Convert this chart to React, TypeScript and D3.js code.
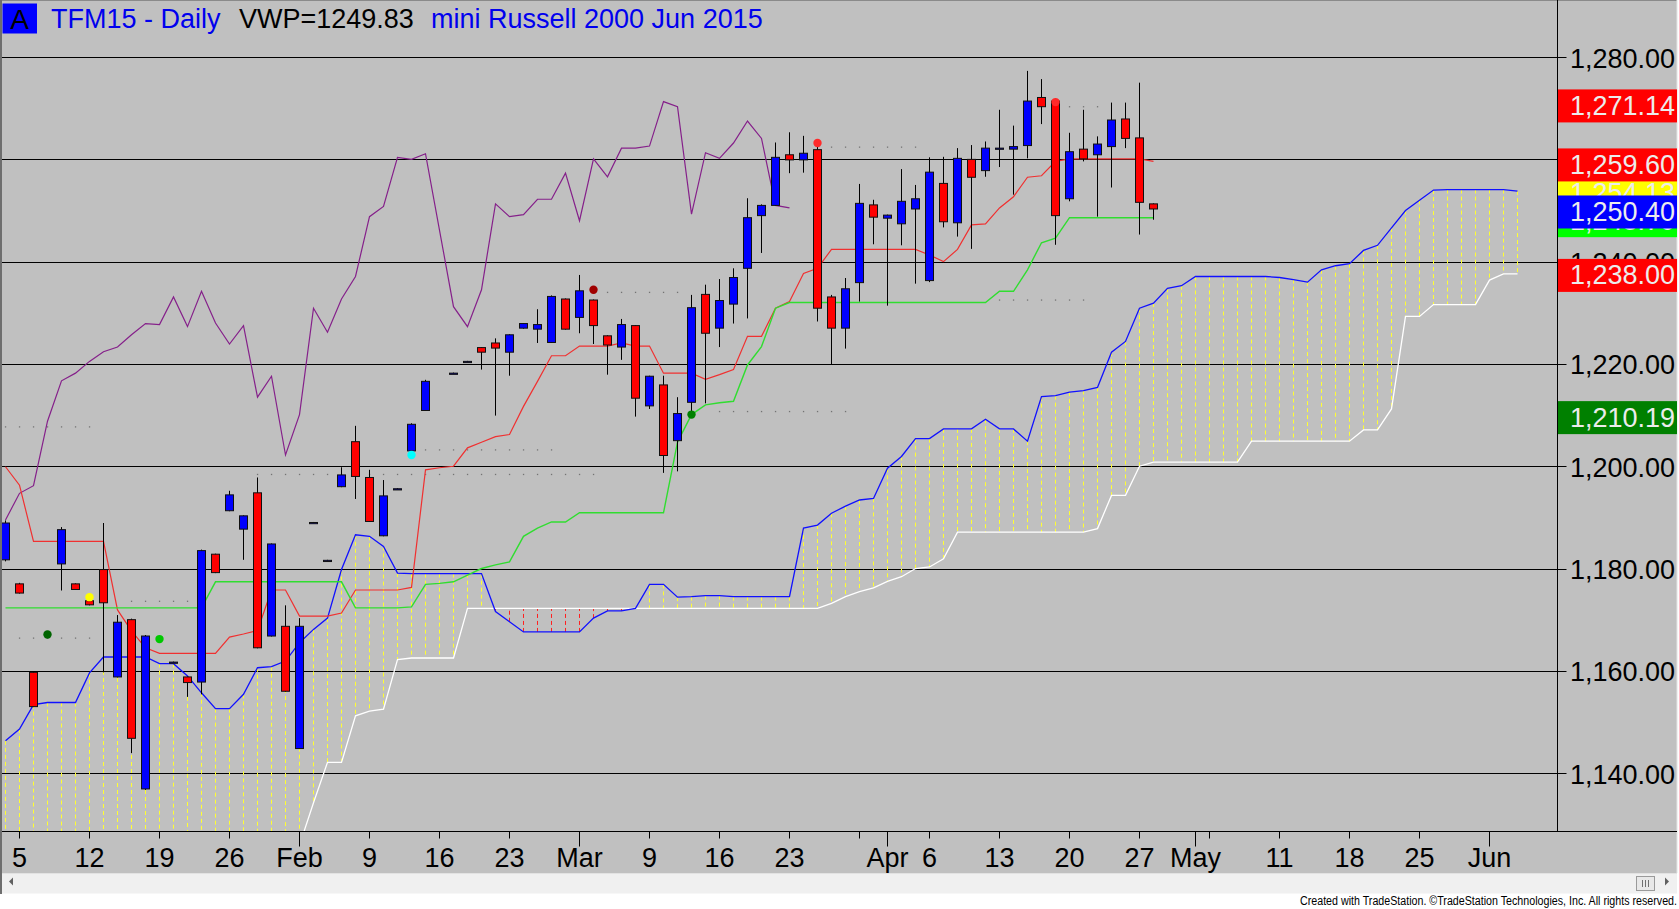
import React from 'react';
import * as d3 from 'd3';

// bar index 0 = Fri Jan 2 2015, one slot per weekday
const opens: (number | null)[] = [
  1181.8, 1177.1, 1159.8, null, 1181.0, 1177.1, 1173.8, 1179.9, 1158.9, 1170.1,
  1137.0, null, 1161.8, 1158.9, 1157.9, 1182.9, 1191.4, 1187.8, 1194.9, 1166.9,
  1168.8, 1144.9, 1189.1, 1181.7, 1196.1, 1204.9, 1197.9, 1186.5, 1195.7, 1203.1,
  1211.0, null, 1218.3, 1220.6, 1223.3, 1224.2, 1222.4, 1227.1, 1226.9, 1224.3,
  1232.8, 1229.2, 1232.6, 1225.6, 1223.4, 1227.6, 1211.9, 1216.0, 1205.1, 1212.6,
  1233.7, 1227.1, 1231.8, 1238.8, 1249.1, 1251.1, 1261.0, 1260.0, 1262.0, 1233.2,
  1227.1, 1236.0, 1251.2, 1248.6, 1247.5, 1250.4, 1236.4, 1255.4, 1247.7, 1260.1,
  1257.9, 1262.3, 1262.1, 1262.8, 1272.2, 1271.5, 1252.4, 1262.1, 1261.0, 1262.6,
  1268.0, 1264.3, 1251.4,
];
const highs: (number | null)[] = [
  1189.5, 1177.3, 1160.0, null, 1188.2, 1177.2, 1173.9, 1189.0, 1171.0, 1170.3,
  1167.1, null, 1161.9, 1159.0, 1183.8, 1183.0, 1195.3, 1190.5, 1197.9, 1185.0,
  1172.9, 1170.4, 1189.2, 1181.8, 1199.9, 1208.0, 1199.4, 1197.4, 1195.8, 1208.5,
  1217.0, null, 1218.4, 1220.7, 1223.4, 1225.1, 1225.9, 1228.1, 1230.8, 1233.5,
  1232.9, 1237.5, 1232.7, 1225.7, 1228.9, 1227.7, 1217.8, 1217.8, 1213.6, 1233.6,
  1235.6, 1236.7, 1238.8, 1252.5, 1251.3, 1263.4, 1265.4, 1264.7, 1263.0, 1233.6,
  1236.9, 1255.3, 1252.2, 1249.3, 1258.2, 1255.1, 1260.5, 1260.6, 1262.3, 1262.9,
  1263.6, 1269.8, 1266.7, 1277.4, 1275.8, 1272.0, 1265.3, 1269.8, 1264.6, 1271.2,
  1271.2, 1275.1, 1251.5,
];
const lows: (number | null)[] = [
  1181.5, 1175.2, 1153.0, null, 1175.8, 1175.9, 1172.9, 1159.8, 1158.8, 1144.0,
  1136.8, null, 1161.7, 1155.0, 1155.5, 1179.2, 1191.3, 1181.8, 1164.5, 1166.8,
  1156.0, 1144.8, 1189.0, 1181.6, 1196.0, 1193.7, 1189.2, 1186.4, 1195.6, 1203.0,
  1210.9, null, 1218.2, 1220.5, 1219.0, 1210.0, 1217.8, 1227.0, 1224.2, 1224.2,
  1226.8, 1226.1, 1224.0, 1218.0, 1220.9, 1209.8, 1211.3, 1198.8, 1199.1, 1210.5,
  1212.4, 1223.4, 1228.0, 1229.0, 1241.8, 1251.0, 1257.4, 1257.5, 1228.4, 1219.9,
  1223.1, 1232.3, 1243.5, 1231.5, 1243.3, 1235.8, 1236.1, 1246.8, 1245.0, 1242.6,
  1256.7, 1258.6, 1253.2, 1260.3, 1267.0, 1243.4, 1251.9, 1259.7, 1248.9, 1254.6,
  1262.3, 1245.4, 1248.3,
];
const closes: (number | null)[] = [
  1189.0, 1175.3, 1153.1, null, 1187.7, 1176.0, 1173.0, 1173.4, 1169.6, 1146.9,
  1166.9, null, 1161.8, 1157.8, 1183.6, 1179.3, 1194.5, 1190.4, 1164.6, 1184.9,
  1156.1, 1168.8, 1189.1, 1181.7, 1198.4, 1198.1, 1189.3, 1194.3, 1195.7, 1208.3,
  1216.7, null, 1218.3, 1220.6, 1222.4, 1223.2, 1225.8, 1228.0, 1227.8, 1233.3,
  1226.9, 1234.4, 1227.6, 1223.8, 1227.8, 1213.4, 1217.7, 1202.2, 1210.4, 1231.1,
  1226.1, 1232.5, 1237.0, 1248.7, 1251.1, 1260.5, 1260.0, 1261.3, 1231.0, 1227.1,
  1234.8, 1251.5, 1248.8, 1249.2, 1251.9, 1252.4, 1257.6, 1247.9, 1260.3, 1256.6,
  1262.3, 1262.3, 1262.6, 1271.5, 1270.4, 1249.1, 1261.6, 1260.2, 1263.1, 1267.8,
  1264.2, 1251.7, 1250.4,
];

// Ichimoku lines
const tenkan = [
  1200.0, 1196.4, 1185.4, 1185.4, 1185.4, 1185.4, 1185.4, 1185.4, 1172.0, 1167.9,
  1164.6, 1163.5, 1163.5, 1163.5, 1163.5, 1163.5, 1166.7, 1167.3, 1168.0, 1175.9,
  1175.9, 1170.8, 1170.8, 1170.8, 1171.4, 1175.9, 1175.9, 1175.9, 1175.9, 1176.4,
  1199.4, 1199.8, 1200.1, 1203.7, 1204.8, 1205.9, 1206.3, 1211.8, 1216.7, 1221.7,
  1221.7, 1223.6, 1223.6, 1223.6, 1224.2, 1223.6, 1223.6, 1218.3, 1218.3, 1218.3,
  1217.1, 1218.0, 1219.0, 1225.5, 1225.5, 1231.0, 1232.3, 1237.8, 1238.8, 1242.5,
  1242.5, 1242.5, 1242.5, 1242.5, 1242.5, 1242.5, 1241.4, 1240.1, 1242.5, 1247.3,
  1247.5, 1250.6, 1252.8, 1256.6, 1256.9, 1259.7, 1260.2, 1260.2, 1260.2, 1260.2,
  1260.2, 1260.2, 1259.7,
];
const kijun = [
  1172.4, 1172.4, 1172.4, 1172.4, 1172.4, 1172.4, 1172.4, 1172.4, 1172.4, 1172.4,
  1172.4, 1172.4, 1172.4, 1172.4, 1172.4, 1177.5, 1177.5, 1177.5, 1177.5, 1177.5,
  1177.5, 1177.5, 1177.5, 1177.5, 1177.5, 1172.4, 1172.4, 1172.4, 1172.4, 1172.6,
  1177.0, 1177.2, 1177.5, 1178.8, 1180.1, 1180.8, 1181.4, 1186.4, 1188.0, 1189.2,
  1189.2, 1191.0, 1191.0, 1191.0, 1191.0, 1191.0, 1191.0, 1191.0, 1204.8, 1210.2,
  1212.1, 1212.5, 1212.8, 1219.9, 1223.5, 1231.0, 1232.1, 1232.1, 1232.1, 1232.1,
  1232.1, 1232.1, 1232.1, 1232.1, 1232.1, 1232.1, 1232.1, 1232.1, 1232.1, 1232.1,
  1232.1, 1234.3, 1234.3, 1238.5, 1243.8, 1244.7, 1248.7, 1248.7, 1248.7, 1248.7,
  1248.7, 1248.7, 1248.7,
];
const chikou: (number | null)[] = [
  1189.6, 1194.8, 1196.3, 1208.9, 1216.8, 1218.3, 1220.6, 1222.5, 1223.4, 1225.8,
  1228.0, 1227.8, 1233.2, 1227.4, 1234.3, 1228.1, 1224.0, 1227.6, 1213.6, 1217.7,
  1202.3, 1210.2, 1231.0, 1226.3, 1232.8, 1237.2, 1248.9, 1250.9, 1260.5, 1260.1,
  1261.2, null, 1231.3, 1227.4, 1234.6, 1251.4, 1248.9, 1249.3, 1252.3, 1252.3,
  1257.4, 1248.1, 1260.2, 1256.7, 1262.3, 1262.3, 1262.7, 1271.4, 1270.4, 1249.4,
  1261.4, 1260.3, 1263.3, 1267.6, 1264.2, 1251.1, 1250.6,
];
const senkouA = [
  1146.4, 1148.7, 1153.5, 1153.9, 1153.9, 1153.9, 1159.7, 1162.8, 1162.8, 1162.8,
  1162.8, 1161.5, 1161.5, 1159.1, 1155.8, 1152.7, 1152.7, 1155.5, 1160.7, 1160.9,
  1162.0, 1165.6, 1168.2, 1170.4, 1179.9, 1186.7, 1186.4, 1184.4, 1179.2, 1179.1,
  1179.1, 1179.1, 1179.1, 1179.1, 1179.1, 1171.7, 1169.7, 1167.7, 1167.7, 1167.7,
  1167.7, 1167.7, 1170.4, 1171.8, 1171.8, 1172.3, 1177.0, 1177.0, 1174.5, 1174.6,
  1174.8, 1174.8, 1174.6, 1174.6, 1174.6, 1174.6, 1174.6, 1188.0, 1188.6, 1190.9,
  1192.3, 1193.5, 1193.8, 1199.7, 1202.0, 1205.5, 1205.5, 1207.4, 1207.4, 1207.4,
  1209.3, 1207.4, 1207.4, 1205.0, 1213.7, 1213.9, 1214.6, 1214.9, 1215.5, 1222.4,
  1224.5, 1231.0, 1232.0, 1234.9, 1235.4, 1237.2, 1237.2, 1237.2, 1237.2, 1237.2,
  1237.2, 1237.0, 1236.6, 1236.1, 1238.5, 1239.3, 1239.7, 1242.3, 1243.3, 1246.7,
  1250.1, 1252.1, 1254.1, 1254.2, 1254.2, 1254.2, 1254.2, 1254.2, 1253.9,
];
// first values sit below the visible range
const senkouB = [
  1118.0, 1118.0, 1118.0, 1118.0, 1118.0, 1118.0, 1118.0, 1118.0, 1118.0, 1118.0,
  1118.0, 1118.0, 1118.0, 1118.0, 1118.0, 1118.0, 1118.0, 1118.0, 1118.0, 1118.0,
  1121.0, 1126.0, 1134.3, 1142.2, 1142.2, 1151.3, 1152.2, 1152.6, 1162.3, 1162.6,
  1162.6, 1162.6, 1162.6, 1172.3, 1172.3, 1172.3, 1172.3, 1172.3, 1172.3, 1172.3,
  1172.3, 1172.3, 1172.3, 1172.3, 1172.3, 1172.3, 1172.3, 1172.3, 1172.3, 1172.3,
  1172.3, 1172.3, 1172.3, 1172.3, 1172.3, 1172.3, 1172.3, 1172.3, 1172.3, 1173.3,
  1174.6, 1175.6, 1176.3, 1177.6, 1178.5, 1180.1, 1180.4, 1182.0, 1187.2, 1187.2,
  1187.2, 1187.2, 1187.2, 1187.2, 1187.2, 1187.2, 1187.2, 1187.2, 1187.9, 1194.4,
  1194.4, 1200.1, 1200.9, 1200.9, 1200.9, 1200.9, 1200.9, 1200.9, 1200.9, 1205.0,
  1205.0, 1205.0, 1205.0, 1205.0, 1205.0, 1205.0, 1205.0, 1207.2, 1207.2, 1211.3,
  1229.4, 1229.4, 1231.7, 1231.7, 1231.7, 1231.7, 1236.5, 1237.7, 1237.7,
];

// small dotted level marks
const dotFrom = [0, 1, 9, 18, 29, 42, 51, 59, 71, 76];
const dotTo = [6, 6, 13, 42, 39, 48, 60, 65, 77, 78];
const dotVal = [1207.8, 1166.5, 1173.7, 1198.5, 1203.3, 1234.1, 1210.8, 1262.5, 1232.6, 1270.4];

// signal dots
const markIdx = [3, 6, 11, 29, 42, 49, 58, 75];
const markVal = [1167.2, 1174.5, 1166.3, 1202.3, 1234.6, 1210.2, 1263.3, 1271.3];
const markColor = ['#006400', '#ffff00', '#00c800', '#00ffff', '#a00000', '#008000', '#ff2a2a', '#ff2a2a'];

const tickIdx = [1, 6, 11, 16, 21, 26, 31, 36, 41, 46, 51, 56, 61, 63, 66, 71, 76, 81, 85, 86, 91, 96, 101, 106];
const tickText = ['5', '12', '19', '26', 'Feb', '9', '16', '23', 'Mar', '9', '16', '23', '', 'Apr', '6', '13', '20', '27', 'May', '', '11', '18', '25', 'Jun'];
const monthNames = ['Feb', 'Mar', 'Apr', 'May', 'Jun'];

const priceTicks = [1280, 1260, 1240, 1220, 1200, 1180, 1160, 1140];
const tagVals = [1271.14, 1248.7, 1254.13, 1250.4, 1259.6, 1238.0, 1210.19];
const tagFill = ['#ff0000', '#00ff00', '#ffff00', '#0000ff', '#ff0000', '#ff0000', '#008000'];

const W = 1679;
const H = 909;
const AXIS_X = 1557.5;
const BOTTOM = 831.5;
const FONT = 'Liberation Sans, Arial, sans-serif';

const App: React.FC = () => {
  const x = d3.scaleLinear().domain([0, 108]).range([5.5, 5.5 + 14 * 108]);
  const y = d3.scaleLinear().domain([1140, 1280]).range([773.6, 57.6]);
  const fmt = d3.format(',.2f');

  const line = d3.line<[number, number]>().x(d => x(d[0])).y(d => y(d[1]));
  const pts = (arr: (number | null)[]) =>
    arr.map((v, i) => [i, v] as [number, number | null]).filter(d => d[1] != null) as [number, number][];

  const crisp = (v: number) => Math.round(v - 0.5) + 0.5;

  return (
    <div style={{ position: 'absolute', left: 0, top: 0 }}>
      <svg width={W} height={H} style={{ display: 'block', background: '#ffffff' }} fontFamily={FONT}>
        <defs>
          <clipPath id="plot">
            <rect x={2} y={2} width={AXIS_X - 2} height={BOTTOM - 2} />
          </clipPath>
        </defs>
        <rect x={0} y={0} width={1677} height={873} fill="#c0c0c0" />
        <line x1={0} x2={1677} y1={0.5} y2={0.5} stroke="#8a8a8a" />
        <line x1={1} x2={1} y1={0} y2={894} stroke="#6e6e6e" strokeWidth={2} />
        <line x1={1677} x2={1677} y1={0} y2={873} stroke="#e4e4e4" />

        {/* gridlines */}
        {priceTicks.map(v => (
          <line key={v} x1={2} x2={AXIS_X + 9} y1={crisp(y(v))} y2={crisp(y(v))} stroke="#000" />
        ))}

        <g clipPath="url(#plot)">
          {/* cloud hatching */}
          {senkouA.map((a, i) => (
            <line key={i} x1={x(i)} x2={x(i)} y1={y(a)} y2={y(senkouB[i])}
              stroke={a >= senkouB[i] ? '#ffff30' : '#ff2020'} strokeDasharray="4,3" strokeWidth={1} />
          ))}
          <path d={line(pts(senkouB)) ?? ''} fill="none" stroke="#ffffff" strokeWidth={1.3} />
          <path d={line(pts(senkouA)) ?? ''} fill="none" stroke="#1010ff" strokeWidth={1.3} />

          {dotVal.map((v, k) =>
            d3.range(dotFrom[k], dotTo[k] + 1).map(i => (
              <rect key={`${k}-${i}`} x={x(i) - 0.6} y={y(v) - 0.6} width={1.3} height={1.3} fill="#747474" />
            ))
          )}

          <path d={line(pts(chikou)) ?? ''} fill="none" stroke="#85208a" strokeWidth={1.2} />
          <path d={line(pts(tenkan)) ?? ''} fill="none" stroke="#f03030" strokeWidth={1.2} />
          <path d={line(pts(kijun)) ?? ''} fill="none" stroke="#30dd30" strokeWidth={1.4} />

          {/* candles */}
          {opens.map((o, i) => {
            if (o == null) return null;
            const c = closes[i] as number;
            const h = highs[i] as number;
            const l = lows[i] as number;
            const top = y(Math.max(o, c));
            const bh = Math.max(y(Math.min(o, c)) - top, 1.2);
            return (
              <g key={i}>
                <line x1={x(i)} x2={x(i)} y1={y(h)} y2={y(l)} stroke="#000" strokeWidth={1} />
                <rect x={x(i) - 4} y={top} width={8} height={bh}
                  fill={c >= o ? '#0000ff' : '#ff0000'} stroke="#101010" strokeWidth={1} />
              </g>
            );
          })}

          {markIdx.map((i, k) => (
            <circle key={k} cx={x(i)} cy={y(markVal[k])} r={4.2} fill={markColor[k]} />
          ))}
        </g>

        {/* axes frame */}
        <line x1={AXIS_X} x2={AXIS_X} y1={0} y2={BOTTOM} stroke="#000" />
        <line x1={2} x2={1677} y1={BOTTOM} y2={BOTTOM} stroke="#000" />

        {/* price labels */}
        {priceTicks.map(v => (
          <text key={v} x={1570} y={y(v) + 10} fontSize={27} fill="#000">{fmt(v)}</text>
        ))}
        {tagVals.map((v, k) => (
          <g key={k}>
            <rect x={1558} y={y(v) - 13.5} width={119} height={33} fill={tagFill[k]} />
            <text x={1570} y={y(v) + 12} fontSize={27} fill="#ececec">{fmt(v)}</text>
          </g>
        ))}

        {/* date axis */}
        {tickIdx.map((i, k) => {
          const isMonth = monthNames.includes(tickText[k]);
          return (
            <g key={k}>
              <line x1={x(i)} x2={x(i)} y1={BOTTOM} y2={BOTTOM + (isMonth ? 15 : 7)} stroke="#000" />
              <text x={x(i)} y={866.5} fontSize={27} textAnchor="middle" fill="#000">{tickText[k]}</text>
            </g>
          );
        })}

        {/* title */}
        <rect x={2.5} y={3.5} width={34.5} height={30} fill="#0000ff" />
        <text x={19.5} y={28.5} fontSize={28} textAnchor="middle" fill="#000">A</text>
        <text x={51} y={28.3} fontSize={27} fill="#0000ee">TFM15 - Daily</text>
        <text x={239} y={28.3} fontSize={27} fill="#000">VWP=1249.83</text>
        <text x={431} y={28.3} fontSize={27} fill="#0000ee">mini Russell 2000 Jun 2015</text>

        {/* scrollbar */}
        <rect x={2} y={873} width={1675} height={20.5} fill="#f0f0f0" />
        <line x1={2} x2={1677} y1={873.5} y2={873.5} stroke="#e2e2e2" />
        <path d="M9,881.5 L13,877.5 L13,885.5 Z" fill="#606060" />
        <rect x={1636.5} y={876.5} width={18} height={14} fill="#e8e8e8" stroke="#9a9a9a" />
        {[1642.5, 1645.5, 1648.5].map(v => (
          <line key={v} x1={v} x2={v} y1={880} y2={887} stroke="#707070" />
        ))}
        <path d="M1665,877.5 L1669,881.5 L1665,885.5 Z" fill="#606060" />

        <text x={1677} y={905} fontSize={12} textAnchor="end" fill="#000"
          textLength={377} lengthAdjust="spacingAndGlyphs">
          Created with TradeStation. ©TradeStation Technologies, Inc. All rights reserved.
        </text>
      </svg>
    </div>
  );
};

export default App;
